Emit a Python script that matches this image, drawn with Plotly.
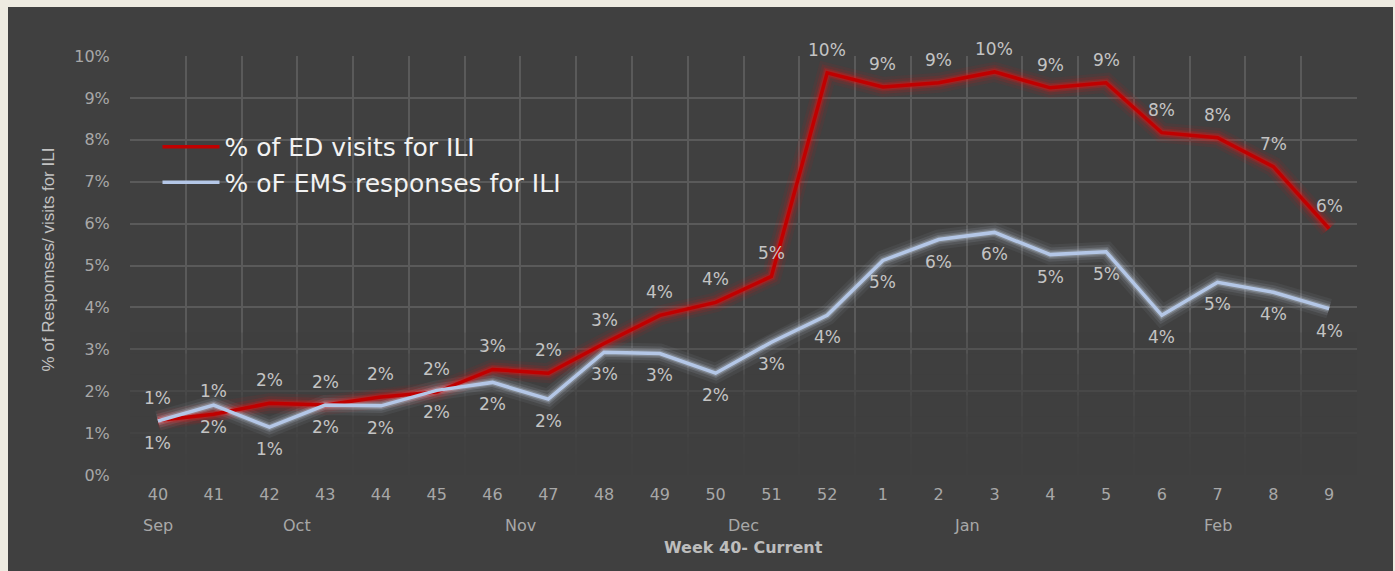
import plotly.graph_objects as go

# ---- data ----
weeks = ["40", "41", "42", "43", "44", "45", "46", "47", "48", "49", "50", "51", "52",
         "1", "2", "3", "4", "5", "6", "7", "8", "9"]
ed_pct = [1.30, 1.45, 1.71, 1.67, 1.86, 1.98, 2.52, 2.43, 3.14, 3.81, 4.12, 4.74, 9.60,
          9.26, 9.36, 9.62, 9.24, 9.36, 8.17, 8.05, 7.36, 5.88]
ems_pct = [1.29, 1.67, 1.14, 1.67, 1.65, 2.02, 2.21, 1.81, 2.93, 2.90, 2.43, 3.17, 3.81,
           5.12, 5.62, 5.79, 5.26, 5.33, 3.81, 4.60, 4.36, 3.97]
months = ["Sep", "Oct", "Nov", "Dec", "Jan", "Feb"]
month_first_week = ["40", "41", "45", "49", "1", "5"]
month_last_week = ["40", "44", "48", "52", "4", "9"]
y_ticks = [0, 1, 2, 3, 4, 5, 6, 7, 8, 9, 10]

ed_name = "% of ED visits for ILI"
ems_name = "% oF EMS responses for ILI"

# ---- styles ----
DARK = "#404040"
BEIGE = "#EEEBE1"
GRID = "#5A5A5A"
TICK_C = "#A8A8A8"
LABEL_C = "#C4C4C4"
RED = "#C00000"
BLUE = "#B4C7E7"
TICK_FONT = "DejaVu Sans"
W, H = 1395, 571
ML, MR, MT, MB = 130, 38, 56, 96
PW, PH = W - ML - MR, H - MT - MB

x = list(range(len(weeks)))
x_lo, x_hi = -0.5, len(weeks) - 0.5


def pct_label(v):
    return f"{int(v + 0.5)}%"


fig = go.Figure()

# soft fade of the grid toward the bottom of the plot (decoration above the grid, below the lines)
for top in [3.4, 2.9, 2.4, 1.9, 1.4, 0.9, 0.5]:
    fig.add_trace(go.Scatter(x=[x_lo, x_hi, x_hi, x_lo, x_lo], y=[-0.1, -0.1, top, top, -0.1],
                             mode="lines", fill="toself", fillcolor="rgba(64,64,64,0.27)",
                             line=dict(width=0), hoverinfo="skip", showlegend=False))

# glow layers
for w, a in [(20, 0.07), (14, 0.12), (9, 0.2), (6, 0.3)]:
    fig.add_trace(go.Scatter(x=x, y=ed_pct, mode="lines", hoverinfo="skip", showlegend=False,
                             line=dict(color=f"rgba(235,20,20,{a})", width=w)))
    fig.add_trace(go.Scatter(x=x, y=ems_pct, mode="lines", hoverinfo="skip", showlegend=False,
                             line=dict(color=f"rgba(205,218,240,{a * 0.85})", width=w)))

fig.add_trace(go.Scatter(x=x, y=ed_pct, mode="lines", name=ed_name,
                         line=dict(color=RED, width=3.5)))
fig.add_trace(go.Scatter(x=x, y=ems_pct, mode="lines", name=ems_name,
                         line=dict(color=BLUE, width=3.5)))

annotations = []
for xi, v in zip(x, ed_pct):
    annotations.append(dict(x=xi, y=v, xref="x", yref="y", text=pct_label(v), showarrow=False,
                            xanchor="center", yanchor="middle", yshift=23,
                            font=dict(family=TICK_FONT, size=17, color=LABEL_C)))
for xi, v in zip(x, ems_pct):
    annotations.append(dict(x=xi, y=v, xref="x", yref="y", text=pct_label(v), showarrow=False,
                            xanchor="center", yanchor="middle", yshift=-22,
                            font=dict(family=TICK_FONT, size=17, color=LABEL_C)))

# month group labels
for m, a, b in zip(months, month_first_week, month_last_week):
    cx = (weeks.index(a) + weeks.index(b)) / 2
    annotations.append(dict(x=cx, y=0, xref="x", yref="paper", text=m, showarrow=False,
                            xanchor="center", yanchor="middle", yshift=-50,
                            font=dict(family=TICK_FONT, size=16, color=TICK_C)))

# axis titles
annotations.append(dict(x=0.5, y=0, xref="paper", yref="paper", text="<b>Week 40- Current</b>",
                        showarrow=False, xanchor="center", yanchor="middle", yshift=-72,
                        font=dict(family=TICK_FONT, size=16, color="#BDBDBD")))
annotations.append(dict(x=0, y=0.5, xref="paper", yref="paper",
                        text="% of Respomses/ visits for ILI", textangle=-90,
                        showarrow=False, xanchor="center", yanchor="middle", xshift=-82, yshift=6,
                        font=dict(family="Liberation Sans Narrow, Liberation Sans", size=17,
                                  color="#C2C2C2")))

shapes = [dict(type="rect", xref="paper", yref="paper",
               x0=(8 - ML) / PW, x1=(W - 2 - ML) / PW,
               y0=-(MB + 10) / PH, y1=(PH + MT - 7) / PH,
               fillcolor=DARK, line=dict(width=0), layer="below")]

fig.update_layout(
    width=W, height=H,
    margin=dict(l=ML, r=MR, t=MT, b=MB),
    paper_bgcolor=BEIGE,
    plot_bgcolor="rgba(0,0,0,0)",
    shapes=shapes,
    annotations=annotations,
    showlegend=True,
    legend=dict(x=0.0224, y=0.838, xanchor="left", yanchor="top", bgcolor="rgba(0,0,0,0)",
                font=dict(family="DejaVu Sans", size=25, color="#F2F2F2"), tracegroupgap=0,
                itemwidth=57),
    xaxis=dict(range=[x_lo, x_hi], tickmode="array", tickvals=x, ticktext=weeks,
               showgrid=False, zeroline=False, showline=False,
               ticks="outside", ticklen=5, tickcolor="rgba(0,0,0,0)",
               tickfont=dict(family=TICK_FONT, size=16, color=TICK_C),
               minor=dict(tickmode="array", tickvals=[i - 0.5 for i in range(len(weeks) + 1)],
                          showgrid=True, gridcolor=GRID, gridwidth=1.5, ticks="")),
    yaxis=dict(range=[0, 10], tickmode="array", tickvals=y_ticks,
               ticktext=[f"{t}%" for t in y_ticks],
               showgrid=True, gridcolor=GRID, gridwidth=1.5, zeroline=False, showline=False,
               ticks="outside", ticklen=16, tickcolor="rgba(0,0,0,0)",
               tickfont=dict(family=TICK_FONT, size=16, color=TICK_C)),
)

fig.write_html("out.html", config={"displayModeBar": False},
               post_script="document.body.style.margin='0';"
                           "document.body.style.background='" + BEIGE + "';")
